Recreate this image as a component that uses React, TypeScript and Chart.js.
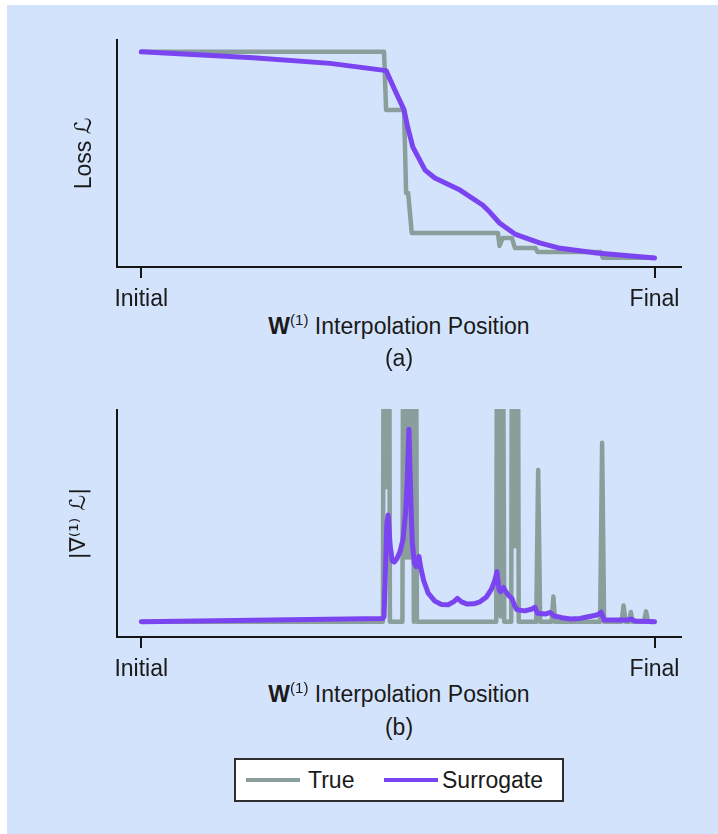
import React, { useEffect, useRef } from 'react';
import { Chart, registerables } from 'chart.js';

Chart.register(...registerables);

// ---------- data ----------
const xTickValues = [0, 100];
const xTickLabels = ['Initial', 'Final'];
const seriesLabels = ['True', 'Surrogate'];

// (a) Loss along interpolation path
const lossTrueX = [0, 47.3, 47.7, 51.2, 51.6, 52.0, 52.7, 69.5, 69.8, 70.4, 72.2, 72.8, 76.8, 77.2, 89.5, 89.9, 100];
const lossTrueY = [0.948, 0.948, 0.692, 0.692, 0.326, 0.326, 0.15, 0.15, 0.093, 0.128, 0.128, 0.084, 0.084, 0.066, 0.066, 0.041, 0.041];
const lossSurrX = [0, 21.8, 36.8, 47.7, 49.4, 51.2, 51.9, 52.9, 55.3, 57.2, 62.1, 66.5, 67.9, 69.8, 72.8, 77.6, 81.3, 88.7, 100];
const lossSurrY = [0.948, 0.922, 0.897, 0.865, 0.78, 0.692, 0.617, 0.529, 0.427, 0.392, 0.339, 0.273, 0.242, 0.194, 0.145, 0.106, 0.084, 0.062, 0.04];

// (b) Gradient magnitude along interpolation path
const gradTrueX = [0, 47.08, 47.37, 47.6, 47.8, 48.0, 48.2, 48.44, 50.88, 51.17, 51.4, 51.6, 51.8, 52.0, 52.2, 52.4, 52.6, 52.8, 53.11, 53.4, 53.7, 69.16, 69.46, 69.7, 69.9, 70.04, 70.23, 70.72, 72.08, 72.37, 72.6, 72.8, 73.0, 73.25, 73.54, 76.95, 77.33, 77.72, 79.96, 80.29, 80.64, 89.4, 89.79, 90.18, 93.58, 93.97, 94.36, 95.04, 95.39, 95.72, 97.96, 98.35, 98.74, 100];
const gradTrueY = [0.067, 0.067, 3, 0.66, 3, 0.66, 3, 0.067, 0.067, 3, 0.35, 3, 0.35, 3, 0.35, 3, 0.35, 3, 0.067, 3, 0.067, 0.067, 3, 0.5, 3, 0.09, 3, 0.067, 0.067, 3, 0.4, 3, 0.4, 3, 0.067, 0.067, 0.736, 0.067, 0.067, 0.178, 0.067, 0.067, 0.856, 0.067, 0.067, 0.139, 0.067, 0.067, 0.11, 0.067, 0.067, 0.113, 0.067, 0.067];
const gradSurrX = [0, 47.1, 47.3, 47.85, 48.1, 48.5, 48.9, 49.3, 49.8, 50.4, 51.0, 51.5, 51.8, 52.15, 52.5, 52.8, 53.2, 53.6, 54.1, 54.5, 55.0, 55.9, 57.2, 58.5, 59.8, 60.9, 61.6, 62.4, 63.5, 64.8, 66.0, 67.2, 68.2, 68.9, 69.3, 69.7, 70.0, 70.6, 71.0, 71.6, 72.2, 72.7, 73.2, 74.7, 76.0, 76.7, 77.2, 78.7, 79.7, 80.4, 82.0, 83.6, 85.5, 86.6, 88.8, 89.6, 90.2, 94.7, 95.4, 96.2, 100];
const gradSurrY = [0.067, 0.082, 0.09, 0.5, 0.537, 0.4, 0.335, 0.33, 0.345, 0.375, 0.43, 0.55, 0.68, 0.915, 0.62, 0.42, 0.325, 0.31, 0.355, 0.3, 0.25, 0.193, 0.158, 0.143, 0.142, 0.156, 0.17, 0.155, 0.145, 0.146, 0.155, 0.175, 0.21, 0.25, 0.288, 0.21, 0.2, 0.218, 0.2, 0.182, 0.17, 0.14, 0.12, 0.115, 0.122, 0.131, 0.105, 0.101, 0.108, 0.093, 0.085, 0.079, 0.082, 0.087, 0.097, 0.109, 0.075, 0.075, 0.079, 0.07, 0.067];

// ---------- styles ----------
const TRUE_COLOR = '#8a9e9b';
const SURR_COLOR = '#7a45f0';
const TEXT = '#1a1a1a';
const AXIS = '#161616';
const BG = '#d3e3fb';
const FONT = "'Liberation Sans', Arial, 'DejaVu Sans', sans-serif";

function pts(xs: number[], ys: number[]) {
  return xs.map((x, i) => ({ x, y: ys[i] }));
}

function makeConfig(
  trueX: number[], trueY: number[], surrX: number[], surrY: number[],
  yTitle: string, yTitleFont: any, yTitlePad: number
): any {
  return {
    type: 'line',
    data: {
      datasets: [
        { label: seriesLabels[0], data: pts(trueX, trueY), borderColor: TRUE_COLOR, backgroundColor: TRUE_COLOR, borderWidth: 4.5, pointRadius: 0, tension: 0, order: 2, clip: 1, borderJoinStyle: 'round' },
        { label: seriesLabels[1], data: pts(surrX, surrY), borderColor: SURR_COLOR, backgroundColor: SURR_COLOR, borderWidth: 5, pointRadius: 0, tension: 0, order: 1, clip: 1, borderJoinStyle: 'round', borderCapStyle: 'round' },
      ],
    },
    options: {
      responsive: false,
      animation: false,
      devicePixelRatio: 1,
      events: [],
      layout: { padding: { top: 40, right: 37, left: 0, bottom: 0 } },
      plugins: { legend: { display: false }, tooltip: { enabled: false } },
      scales: {
        x: {
          type: 'linear',
          min: -4.73,
          max: 105.16,
          afterBuildTicks: (s: any) => { s.ticks = xTickValues.map((v) => ({ value: v })); },
          afterFit: (s: any) => { s.height = 43; },
          ticks: {
            callback: (v: any) => { const i = xTickValues.indexOf(Number(v)); return i >= 0 ? xTickLabels[i] : ''; },
            font: { family: FONT, size: 23 },
            color: TEXT,
            padding: 8,
            maxRotation: 0,
            autoSkip: false,
          },
          grid: { display: true, drawOnChartArea: false, drawTicks: true, tickLength: 11, color: AXIS, lineWidth: 2 },
          border: { display: true, color: AXIS, width: 2 },
        },
        y: {
          type: 'linear',
          min: 0,
          max: 1,
          afterFit: (s: any) => { s.width = 117; },
          ticks: { display: false },
          grid: { display: false },
          border: { display: true, color: AXIS, width: 2 },
          title: { display: true, text: yTitle, font: yTitleFont, color: TEXT, padding: { top: yTitlePad, bottom: 0 } },
        },
      },
    },
  };
}

function XTitle({ top }: { top: number }) {
  return (
    <div style={{ position: 'absolute', left: 117, width: 564, top, height: 28, lineHeight: '28px', fontSize: 23, textAlign: 'center', whiteSpace: 'nowrap' }}>
      <span style={{ fontWeight: 'bold' }}>W</span>
      <span style={{ fontSize: 15, position: 'relative', top: -9 }}>(1)</span> Interpolation Position
    </div>
  );
}

function Caption({ top, text }: { top: number; text: string }) {
  return (
    <div style={{ position: 'absolute', left: 117, width: 564, top, height: 28, lineHeight: '28px', fontSize: 23, textAlign: 'center' }}>{text}</div>
  );
}

export default function App() {
  const refA = useRef<HTMLCanvasElement>(null);
  const refB = useRef<HTMLCanvasElement>(null);

  useEffect(() => {
    const a = new Chart(refA.current as HTMLCanvasElement, makeConfig(
      lossTrueX, lossTrueY, lossSurrX, lossSurrY,
      'Loss \u2112', { family: FONT, size: 23 }, 71));
    const b = new Chart(refB.current as HTMLCanvasElement, makeConfig(
      gradTrueX, gradTrueY, gradSurrX, gradSurrY,
      '|\u2207\u207D\u00B9\u207E \u2112|', { family: "'DejaVu Sans', sans-serif", size: 22 }, 66));
    return () => { a.destroy(); b.destroy(); };
  }, []);

  const legendColors = [TRUE_COLOR, SURR_COLOR];
  const swatchLeft = [10, 148];
  const textLeft = [72, 206];

  return (
    <div style={{ position: 'absolute', left: 0, top: 0, width: 718, height: 834, background: '#ffffff', overflow: 'hidden', fontFamily: FONT, color: TEXT }}>
      <div style={{ position: 'absolute', left: 7, top: 5, right: 0, bottom: 0, background: BG }} />
      <canvas ref={refA} width={718} height={310} style={{ position: 'absolute', left: 0, top: 0 }} />
      <canvas ref={refB} width={718} height={310} style={{ position: 'absolute', left: 0, top: 370 }} />
      <XTitle top={312} />
      <Caption top={344} text="(a)" />
      <XTitle top={680} />
      <Caption top={713} text="(b)" />
      <div style={{ position: 'absolute', left: 234, top: 758, width: 330, height: 44, boxSizing: 'border-box', border: '2px solid #2e2e2e', background: '#ffffff' }}>
        {seriesLabels.map((lab, i) => (
          <React.Fragment key={lab}>
            <div style={{ position: 'absolute', left: swatchLeft[i], top: 18, width: 54, height: 4, background: legendColors[i] }} />
            <div style={{ position: 'absolute', left: textLeft[i], top: 0, height: 40, lineHeight: '40px', fontSize: 23, whiteSpace: 'nowrap' }}>{lab}</div>
          </React.Fragment>
        ))}
      </div>
    </div>
  );
}
